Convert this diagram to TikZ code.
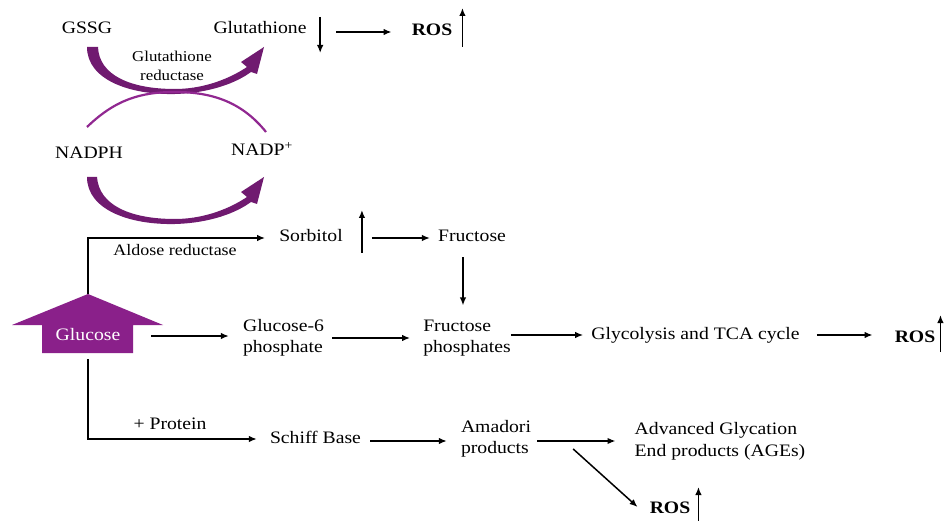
\documentclass[tikz,border=0pt]{standalone}
\usepackage{fontspec}
\setmainfont{Liberation Serif}[FakeStretch=1.125]
\usetikzlibrary{arrows.meta}
\definecolor{glucpurple}{RGB}{138,32,138}
\definecolor{arrpurple}{RGB}{112,26,112}
\definecolor{arcpurple}{RGB}{145,40,145}
\tikzset{
  txt/.style={inner sep=0pt, text height=12pt, text depth=4pt,
              font=\fontsize{17.5}{21.5}\selectfont},
  txtml/.style={inner sep=0pt, align=left,
              font=\fontsize{17.5}{21.5}\selectfont},
  smalltxt/.style={inner sep=0pt, align=center,
              font=\fontsize{15}{19}\selectfont},
  rostxt/.style={txt, font=\fontsize{17.5}{21.5}\selectfont\bfseries},
  arr/.style={-{Latex[length=8pt,width=6.5pt]}, line width=1.5pt, black},
  ind/.style={-{Latex[length=8pt,width=6.5pt]}, line width=1.5pt, black},
}
\begin{document}
\begin{tikzpicture}[x=1pt,y=-1pt]
\fill[white] (0,0) rectangle (947,521);
\useasboundingbox (0,0) rectangle (947,521);

% ---- glutathione cycle ----
\node[txt] (gssg) at (87,30) {GSSG};
\node[txt] (glut) at (260,30) {Glutathione};
\node[rostxt] (ros1) at (432,32) {ROS};
\node[smalltxt] (gr) at (172,66) {Glutathione\\reductase};
\node[txt] (nadph) at (89,155) {NADPH};
\node[txt] (nadp) at (262,152) {NADP\textsuperscript{+}};

% thick curved arrows
\fill[arrpurple] (87,47) .. controls (87,80) and (130,95) .. (175,94)
  .. controls (210,93) and (236,83) .. (251,72) -- (257,74) -- (264,47) -- (241,62) -- (247,67)
  .. controls (226,81) and (200,89) .. (175,89)
  .. controls (130,89) and (99,75) .. (98,47) -- cycle;
\begin{scope}[shift={(0,130)}]
\fill[arrpurple] (87,47) .. controls (87,80) and (130,95) .. (175,94)
  .. controls (210,93) and (236,83) .. (251,72) -- (257,74) -- (264,47) -- (241,62) -- (247,67)
  .. controls (226,81) and (200,89) .. (175,89)
  .. controls (130,89) and (99,75) .. (97,47) -- cycle;
\end{scope}
% thin arc
\draw[arcpurple, line width=2.2pt] (87,127) .. controls (115,100) and (140,92) .. (175,92)
  .. controls (212,92) and (242,102) .. (266,132);

\draw[arr] ([xshift=29.5pt,yshift=-2pt]glut.east) -- ([xshift=-20pt]ros1.west);
\draw[ind] ([xshift=13.5pt,yshift=13pt]glut.east) -- ++(0,36);
\draw[ind] ([xshift=10pt,yshift=-15pt]ros1.east) -- ++(0,-39);

% ---- glucose ----
\fill[glucpurple] (12,325) -- (88,294) -- (163,325) -- (133,325) -- (133,353) -- (42,353) -- (42,325) -- cycle;
\coordinate (apex) at (88,294);
\node[txt, text=white] (gluc) at (88,336) {Glucose};

% polyol pathway
\node[txt] (sorb) at (311,238) {Sorbitol};
\node[txt] (fruc) at (472,238) {Fructose};
\node[txt, font=\fontsize{16}{20}\selectfont] (ald) at (175,252) {Aldose reductase};
\draw[arr, shorten >=14pt] (apex) |- (sorb.west);
\draw[ind] ([xshift=19pt,yshift=-15pt]sorb.east) -- ++(0,-43);
\draw[arr, shorten <=29pt, shorten >=8pt] (sorb.east) -- (fruc.west);

% glycolysis
\node[txtml] (g6p) at (283.5,338) {Glucose-6\\phosphate};
\node[txtml] (fp) at (467,338) {Fructose\\phosphates};
\node[txt] (glyc) at (695.5,335) {Glycolysis and TCA cycle};
\node[rostxt] (ros2) at (915,338) {ROS};
\draw[arr] ([xshift=-9pt,yshift=-11pt]fruc.south) -- ([xshift=-4pt,yshift=14pt]fp.north);
\draw[arr, shorten <=31pt, shorten >=14pt] (gluc.east) -- (gluc.east -| g6p.west);
\draw[arr, shorten <=8pt, shorten >=13pt] (g6p.east) -- (fp.west);
\draw[arr, shorten >=8pt] (fp.east |- glyc.west) -- (glyc.west);
\draw[arr, shorten <=17pt, shorten >=22pt] (glyc.east) -- (glyc.east -| ros2.west);
\draw[ind] ([xshift=5pt,yshift=-14pt]ros2.east) -- ++(0,-37);

% glycation
\node[txt] (prot) at (170,425) {+ Protein};
\node[txt] (schiff) at (315.5,439) {Schiff Base};
\node[txtml] (amad) at (496,439) {Amadori\\products};
\node[txtml] (age) at (720,441.5) {Advanced Glycation\\End products (AGEs)};
\node[rostxt] (ros3) at (670,509) {ROS};
\draw[arr, shorten <=15pt, shorten >=13pt] (gluc.south) |- (schiff.west);
\draw[arr, shorten <=9pt, shorten >=14pt] ([yshift=-2pt]schiff.east) -- ([yshift=-2pt]schiff.east -| amad.west);
\draw[arr, shorten <=6pt, shorten >=19pt] ([yshift=-2pt]amad.east) -- ([yshift=-2pt]amad.east -| age.west);
\draw[arr] ([xshift=42pt,yshift=-10pt]amad.east) -- ([xshift=-12pt,yshift=2pt]ros3.west);
\draw[ind] ([xshift=8pt,yshift=-12pt]ros3.east) -- ++(0,-34);
\end{tikzpicture}
\end{document}
